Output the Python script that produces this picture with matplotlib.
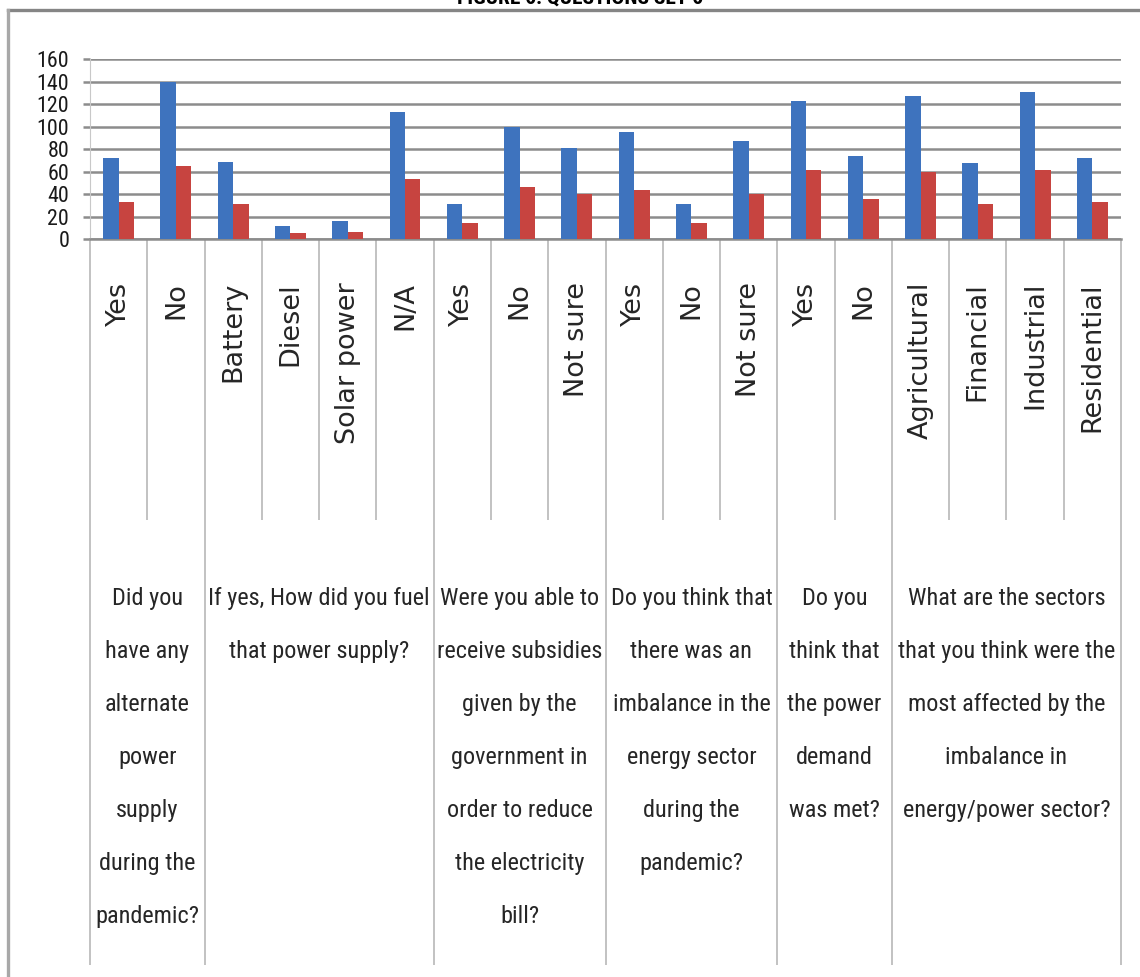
import numpy as np
import matplotlib
matplotlib.use("Agg")
import matplotlib.pyplot as plt
from matplotlib import font_manager
from matplotlib.lines import Line2D

W, H = 1140, 977

categories = [
    "Yes", "No",
    "Battery", "Diesel", "Solar power", "N/A",
    "Yes", "No", "Not sure",
    "Yes", "No", "Not sure",
    "Yes", "No",
    "Agricultural", "Financial", "Industrial", "Residential",
]
questions = [
    "Did you\nhave any\nalternate\npower\nsupply\nduring the\npandemic?",
    "If yes, How did you fuel\nthat power supply?",
    "Were you able to\nreceive subsidies\ngiven by the\ngovernment in\norder to reduce\nthe electricity\nbill?",
    "Do you think that\nthere was an\nimbalance in the\nenergy sector\nduring the\npandemic?",
    "Do you\nthink that\nthe power\ndemand\nwas met?",
    "What are the sectors\nthat you think were the\nmost affected by the\nimbalance in\nenergy/power sector?",
]
answers_per_question = [2, 4, 3, 3, 2, 4]
responses = [72, 140, 69, 12, 16, 113, 31, 100, 81, 95, 31, 87, 123, 74, 127, 68, 131, 72]
percentages = [33, 65, 31, 5, 6, 53, 14, 46, 40, 44, 14, 40, 61, 36, 60, 31, 61, 33]

BLUE = "#3e73be"
RED = "#c74440"
GRID = "#8c8c8c"
SEP = "#b8b8b8"
TEXT = "#262626"


def first_font(names):
    installed = {f.name for f in font_manager.fontManager.ttflist}
    for name in names:
        if name in installed:
            return name
    return "DejaVu Sans"


narrow = first_font(["Liberation Sans Narrow", "Roboto Condensed",
                     "Open Sans Condensed", "Lato"])

fig = plt.figure(figsize=(W / 100, H / 100), dpi=100)
renderer = fig.canvas.get_renderer()


def fit_size(text, target_px, **kw):
    # font size that makes `text` span target_px pixels
    probe = fig.text(0, 0, text, fontsize=10, **kw)
    width = probe.get_window_extent(renderer).width
    probe.remove()
    return 10 * target_px / width


# plot area: zero line at y=239 px, 160 at y=59 px
top_px, zero_px = 59.3, 239.0
ax = fig.add_axes([90 / W, 1 - zero_px / H, (1121 - 90) / W, (zero_px - top_px) / H])


def ax_y(py):
    return (zero_px - py) / (zero_px - top_px)


x = np.arange(len(categories))
bw = 0.27
ax.bar(x - bw / 2, responses, bw, color=BLUE, zorder=3)
ax.bar(x + bw / 2, percentages, bw, color=RED, zorder=3)

ax.set_xlim(-0.5, len(categories) - 0.5)
ax.set_ylim(0, 160)
ax.set_yticks(range(0, 161, 20))
ax.yaxis.grid(True, color=GRID, linewidth=1.8)
ax.set_axisbelow(True)

for side in ["top", "right"]:
    ax.spines[side].set_visible(False)
ax.spines["left"].set_color("#c8c8c8")
ax.spines["left"].set_linewidth(0.8)
ax.spines["bottom"].set_color(GRID)
ax.spines["bottom"].set_linewidth(1.8)

tick_size = fit_size("160", 32, family=narrow)
ax.tick_params(axis="y", length=5, width=1.8, color=GRID, pad=10,
               labelsize=tick_size, labelcolor="#1a1a1a")
for lab in ax.get_yticklabels():
    lab.set_family(narrow)

ax.set_xticks(x, categories, rotation=90, fontsize=19.5, color=TEXT,
              family="DejaVu Sans")
ax.tick_params(axis="x", length=0, pad=31)
for lab in ax.get_xticklabels():
    lab.set_verticalalignment("top")

# separators under the axis: short between answers, long between questions
edges = np.cumsum([0] + answers_per_question)
xt = ax.get_xaxis_transform()
short = [i - 0.5 for i in range(len(categories) + 1) if i not in edges]
long_ = [e - 0.5 for e in edges]
ax.vlines(short, ax_y(520), 0, transform=xt, clip_on=False, color=SEP, lw=1.2)
ax.vlines(long_, ax_y(965), 0, transform=xt, clip_on=False, color=SEP, lw=1.2)

# question text, one line at a time, 53 px apart
q_size = fit_size("If yes, How did you fuel", 220, family=narrow)
for start, end, question in zip(edges[:-1], edges[1:], questions):
    centre = (start + end - 1) / 2
    for k, line in enumerate(question.split("\n")):
        ax.text(centre, ax_y(605 + 53 * k), line, transform=xt, ha="center",
                va="baseline", fontsize=q_size, family=narrow, color=TEXT,
                clip_on=False)

# title sits just above the frame
title_size = fit_size("FIGURE 6: QUESTIONS SET 6", 245, family=narrow,
                      fontweight="bold")
fig.text(580 / W, 1 - 4 / H, "FIGURE 6: QUESTIONS SET 6", ha="center",
         va="baseline", fontsize=title_size, family=narrow, fontweight="bold",
         color="black")

# outer frame: only the top and left edges fall inside the figure
fig.add_artist(Line2D([8 / W, 1], [1 - 9.5 / H, 1 - 9.5 / H],
                      transform=fig.transFigure, color="#858585", lw=2.4))
fig.add_artist(Line2D([8 / W, 8 / W], [0, 1 - 9.5 / H],
                      transform=fig.transFigure, color="#a8a8a8", lw=2.4))

fig.savefig("out.png", dpi=100)
